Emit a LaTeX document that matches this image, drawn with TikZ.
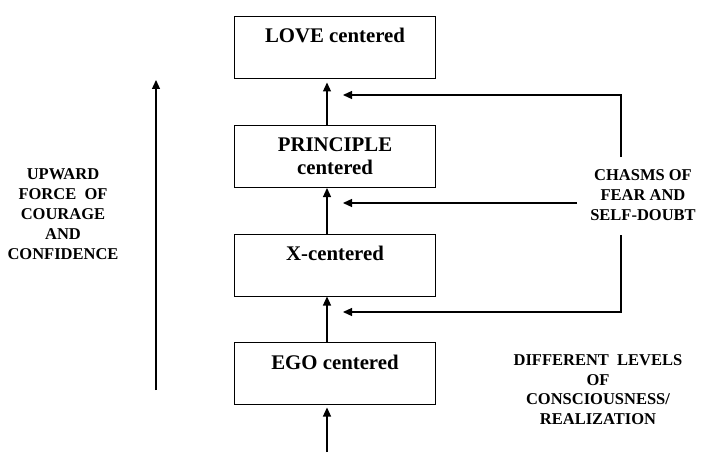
\documentclass[tikz,border=0pt]{standalone}
\usepackage{fontspec}
\setmainfont{Liberation Serif}
\usetikzlibrary{arrows.meta}
\begin{document}
\begin{tikzpicture}[x=1pt,y=-1pt,
 box/.style={draw,line width=1pt,minimum width=201pt,minimum height=62pt,inner sep=0pt},
 boxtext/.style={font=\fontsize{20.8}{23.5}\selectfont\bfseries,align=center,anchor=base,inner sep=0pt},
 lbl/.style={font=\fontsize{16.5}{20}\selectfont\bfseries,align=center,anchor=base,inner sep=0pt},
 arr/.style={line width=1.2pt,-{Triangle[width=8pt,length=9pt]}},
 ln/.style={line width=1.2pt}]
\useasboundingbox (0,0) rectangle (705,460);
% boxes
\node[box] (love) at (334.5,48) {};
\node[box] (principle) at (334.5,156.5) {};
\node[box] (xc) at (334.5,265) {};
\node[box] (ego) at (334.5,373) {};
\node[boxtext] (lovet) at (335,43) {LOVE centered};
\node[boxtext] (principlet) at (335,175) {PRINCIPLE\\centered};
\node[boxtext] (xct) at (335,260) {X-centered};
\node[boxtext] (egot) at (335,369) {EGO centered};
% labels
\node[lbl] (upward) at (63,259) {UPWARD\\FORCE\ \ OF\\COURAGE\\AND\\CONFIDENCE};
\node[lbl] (chasm) at (643,220) {CHASMS OF\\FEAR AND\\SELF-DOUBT};
\node[lbl,font=\fontsize{16.5}{19.5}\selectfont\bfseries] (levels) at (598,424) {DIFFERENT\ \ LEVELS\\OF\\CONSCIOUSNESS/\\REALIZATION};
% vertical arrows between boxes
\draw[arr] ([xshift=-7.5pt]principle.north) -- ([xshift=-7.5pt,yshift=-3pt]love.south);
\draw[arr] ([xshift=-7.5pt]xc.north) -- ([xshift=-7.5pt]principle.south);
\draw[arr] ([xshift=-7.5pt]ego.north) -- ([xshift=-7.5pt]xc.south);
\coordinate (base) at (327,452);
\draw[arr] (base) -- ([xshift=-7.5pt,yshift=-3pt]ego.south);
% left upward arrow
\coordinate (lbot) at (156,390);
\coordinate (ltop) at (156,80);
\draw[arr] (lbot) -- (ltop);
% chasm arrows
\coordinate (c1s) at (621,157);
\coordinate (c1e) at (343,95);
\coordinate (c2s) at (577,203);
\coordinate (c2e) at (343,203);
\coordinate (c3s) at (621,235);
\coordinate (c3e) at (343,312);
\draw[arr] (c1s) |- (c1e);
\draw[arr] (c2s) -- (c2e);
\draw[arr] (c3s) |- (c3e);
\end{tikzpicture}
\end{document}
